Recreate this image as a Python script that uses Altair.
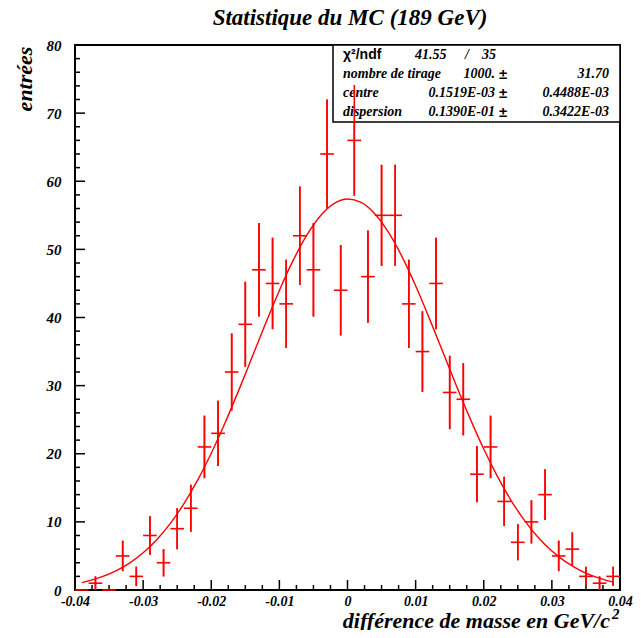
import altair as alt
import pandas as pd
import numpy as np

# ---------------- data ----------------
bin_centers = [round(-0.039 + 0.002 * i, 3) for i in range(40)]
counts = [0, 1, 0, 5, 2, 8, 4, 9, 12, 21,
          23, 32, 39, 47, 45, 42, 52, 47, 64, 44,
          66, 46, 55, 55, 42, 35, 45, 29, 28, 17,
          21, 13, 7, 10, 14, 5, 6, 2, 1, 2]
bin_half_width = 0.001

curve_x = [-0.039] + [round(-0.038 + 0.002 * i, 3) for i in range(39)] + [0.039]
curve_y = [1.09,
           1.33, 1.95, 2.81, 3.95, 5.46, 7.39, 9.78, 12.69, 16.12, 20.07,
           24.47, 29.23, 34.19, 39.18, 43.97, 48.34, 52.04, 54.90, 56.72, 57.40,
           56.89, 55.24, 52.53, 48.94, 44.66, 39.91, 34.94, 29.96, 25.16, 20.70,
           16.69, 13.17, 10.18, 7.71, 5.72, 4.16, 2.96, 2.06, 1.41,
           1.15]

x_major = [-0.04, -0.03, -0.02, -0.01, 0.0, 0.01, 0.02, 0.03, 0.04]
x_minor = [round(-0.04 + 0.0025 * k, 4) for k in range(33) if k % 4 != 0]
y_major = [0, 10, 20, 30, 40, 50, 60, 70, 80]
y_minor = [v for v in range(0, 81, 2) if v % 10 != 0]

title_text = "Statistique du MC (189 GeV)"
ytitle_text = "entrées"
xtitle_text = "différence de masse en GeV/c"
stat_labels = ["nombre de tirage", "centre", "dispersion"]
stat_values = ["1000.", "0.1519E-03", "0.1390E-01"]
stat_errors = ["31.70", "0.4488E-03", "0.3422E-03"]
chi2_text = ["41.55", "/", "35"]

# ---------------- setup ----------------
W, H = 545, 545
SERIF = "Liberation Serif"
SANS = "Liberation Sans"
RED = "#ff0000"

xscale = alt.Scale(domain=[-0.04, 0.04], nice=False, zero=False)
yscale = alt.Scale(domain=[0, 80], nice=False, zero=False)

hist = pd.DataFrame({"x": bin_centers, "n": counts})
hist["err"] = np.sqrt(hist["n"])
hist["lo"] = hist["n"] - hist["err"]
hist["hi"] = hist["n"] + hist["err"]
hist["xl"] = hist["x"] - bin_half_width
hist["xr"] = hist["x"] + bin_half_width

curve = pd.DataFrame({"x": curve_x, "y": curve_y})

one = pd.DataFrame({"a": [0]})


def txt(text, x, y, size=14, align="left", font=SERIF, style="italic",
        weight="bold", angle=0, baseline="middle"):
    return alt.Chart(one).mark_text(
        text=text, font=font, fontSize=size, fontStyle=style, fontWeight=weight,
        align=align, baseline=baseline, angle=angle, color="black"
    ).encode(x=alt.value(x), y=alt.value(y))


LABEL_STYLE = dict(labelFont=SERIF, labelFontStyle="italic", labelFontWeight="bold",
                   labelColor="black")


def x_axis():
    return alt.Axis(values=x_major, ticks=False, grid=False, domain=False,
                    labelExpr="datum.value == 0 ? '0' : (datum.value < 0 ? '-' : '') + format(abs(datum.value), '.2f')",
                    labelPadding=4, labelFontSize=14, title=None, labelFlush=False,
                    labelOverlap=False, **LABEL_STYLE)


def y_axis():
    return alt.Axis(values=y_major, ticks=False, grid=False, domain=False,
                    labelPadding=14, labelFontSize=15, title=None, format="d",
                    labelOverlap=False, **LABEL_STYLE)


def X(field):
    return alt.X(field, type="quantitative", scale=xscale, axis=x_axis())


def Y(field):
    return alt.Y(field, type="quantitative", scale=yscale, axis=y_axis())


# error bars
vbars = alt.Chart(hist).mark_rule(color=RED, strokeWidth=1.6).encode(
    x=X("x"), y=Y("lo"), y2="hi")
hbars = alt.Chart(hist).mark_rule(color=RED, strokeWidth=1.6).encode(
    x=X("xl"), x2="xr", y=Y("n"))

fit = alt.Chart(curve).mark_line(color=RED, strokeWidth=1.4, interpolate="monotone").encode(
    x=X("x"), y=Y("y"))

# inward ticks
xmaj = alt.Chart(pd.DataFrame({"v": x_major})).mark_rule(color="black", strokeWidth=1.5).encode(
    x=X("v"), y=alt.value(H), y2=alt.value(H - 10))
xmin = alt.Chart(pd.DataFrame({"v": x_minor})).mark_rule(color="black", strokeWidth=1.5).encode(
    x=X("v"), y=alt.value(H), y2=alt.value(H - 5))
ymaj = alt.Chart(pd.DataFrame({"v": y_major})).mark_rule(color="black", strokeWidth=1.5).encode(
    y=Y("v"), x=alt.value(0), x2=alt.value(10))
ymin = alt.Chart(pd.DataFrame({"v": y_minor})).mark_rule(color="black", strokeWidth=1.5).encode(
    y=Y("v"), x=alt.value(0), x2=alt.value(5))

# stats box
box = alt.Chart(one).mark_rect(fill="white", stroke="black", strokeWidth=1.5).encode(
    x=alt.value(258), x2=alt.value(545), y=alt.value(0), y2=alt.value(77))

row_y = [29, 48, 67]
box_texts = [
    txt("χ²/ndf", 268, 10, size=14, font=SANS, style="normal"),
    txt(chi2_text[0], 340, 10, size=14),
    txt(chi2_text[1], 392, 10, size=14, align="center"),
    txt(chi2_text[2], 407, 10, size=14),
]
for i in range(3):
    box_texts.append(txt(stat_labels[i], 268, row_y[i], size=14))
    box_texts.append(txt(stat_values[i], 420, row_y[i], size=14, align="right"))
    box_texts.append(txt("±", 428, row_y[i], size=15, font=SANS, style="normal", align="center"))
    box_texts.append(txt(stat_errors[i], 534, row_y[i], size=14, align="right"))

titles = [
    txt(title_text, 275, -20, size=23, align="center", baseline="alphabetic"),
    txt(ytitle_text, -50, 34, size=22, angle=270, align="center"),
    txt(xtitle_text, 535, 583, size=22, align="right", baseline="alphabetic"),
    txt("2", 537, 574, size=15, align="left", baseline="alphabetic"),
]

chart = alt.layer(
    vbars, box, *box_texts, fit, xmaj, xmin, ymaj, ymin, hbars, vbars, *titles
).properties(
    width=W, height=H,
    background="white",
    autosize=alt.AutoSizeParams(type="none"),
    padding={"left": 67, "top": 37, "right": 13, "bottom": 40},
).configure_view(
    stroke="black", strokeWidth=2
)

chart.save("out.html", embed_options={"renderer": "svg", "actions": False})
